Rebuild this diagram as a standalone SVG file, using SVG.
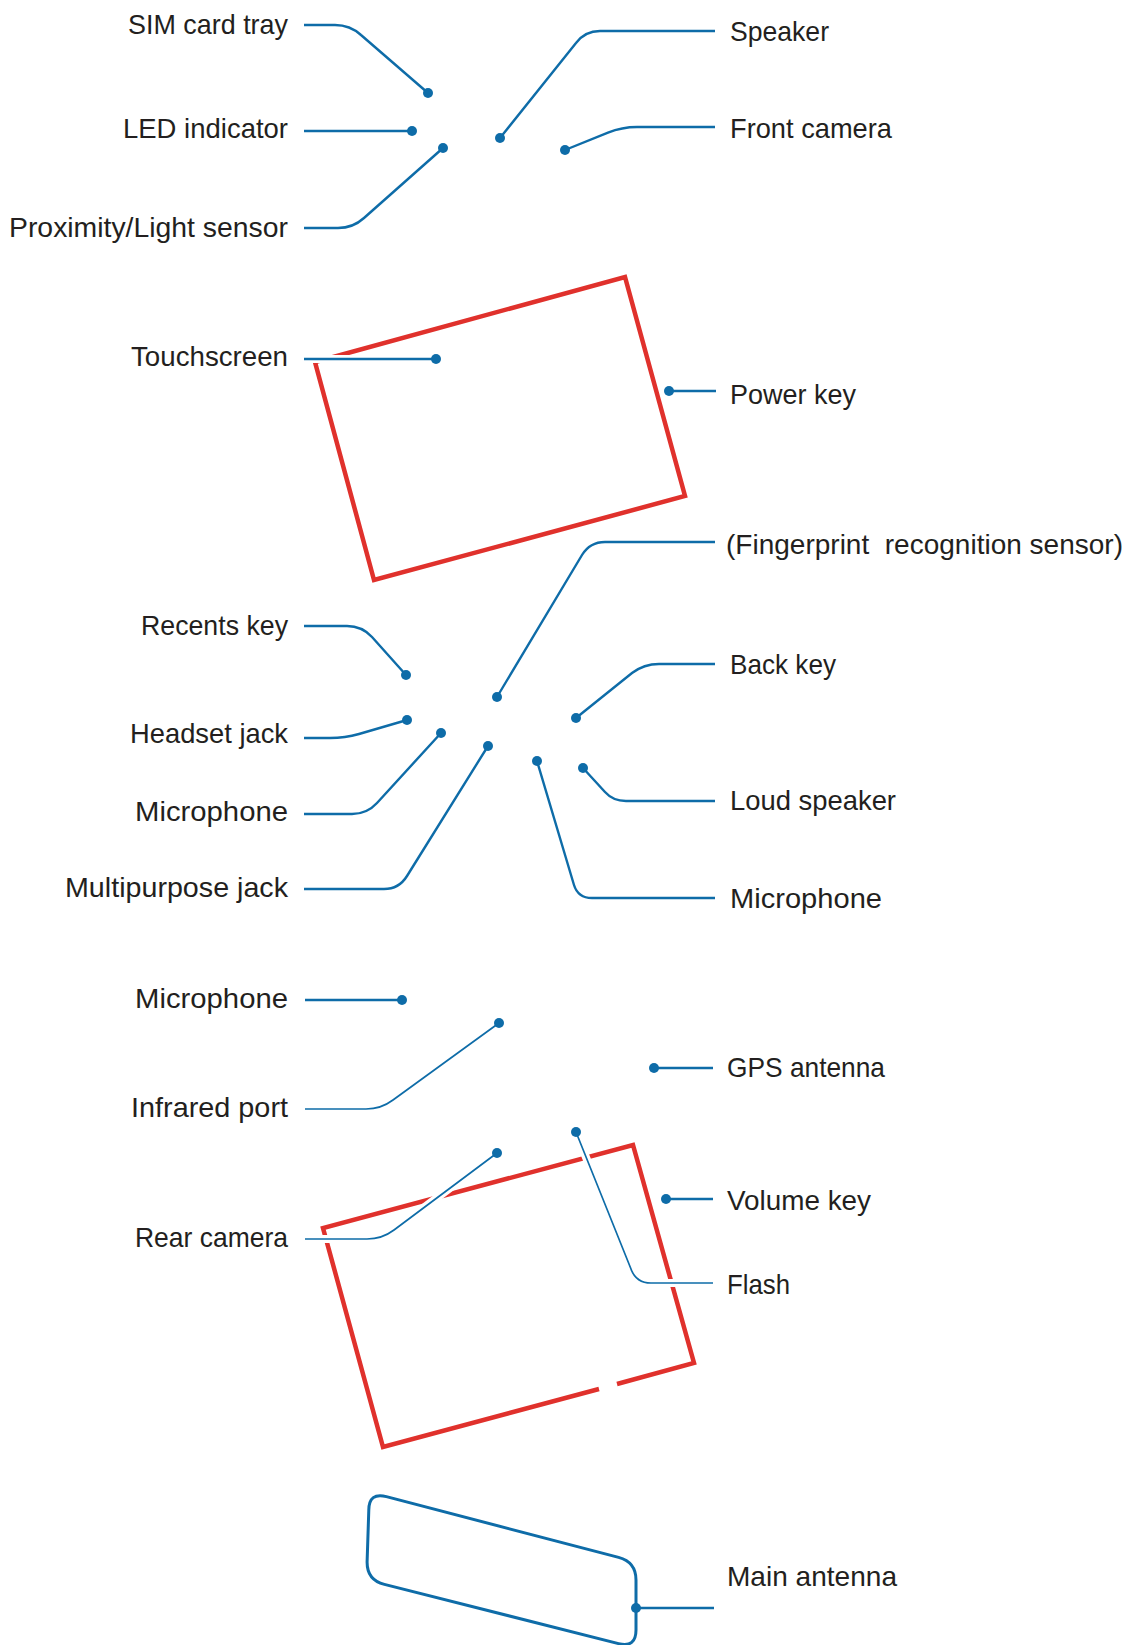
<svg xmlns="http://www.w3.org/2000/svg" width="1136" height="1645" viewBox="0 0 1136 1645">
<style>
  text { font-family: "Liberation Sans", Arial, sans-serif; font-size: 28px; fill: #231f20; }
  .l { text-anchor: end; }
  .r { text-anchor: start; }
  .frame { fill: none; stroke: #e0312c; stroke-width: 4.5; stroke-linejoin: miter; }
  .ln { fill: none; stroke: #0e6ca8; stroke-width: 2.4; }
  .thin { fill: none; stroke: #0e6ca8; stroke-width: 1.7; }
  .halo { fill: none; stroke: #ffffff; stroke-width: 8; }
  .dot { fill: #0e6ca8; }
  .ant { fill: none; stroke: #0e6ca8; stroke-width: 3; }
</style>
<rect width="1136" height="1645" fill="#ffffff"/>

<g id="outlines">
  <polygon id="front-frame" class="frame" points="315,362 625,277 685,496 374,580"/>
  <path id="rear-frame" class="frame" d="M617,1384 L694,1363 L633,1145 L323,1228 L383,1447 L599,1389"/>
  <path id="antenna-outline" class="ant" d="M386.4,1496.6 L618.6,1557.4 Q636,1562 636,1580 L636,1630 Q636,1648 618.6,1643.6 L384.4,1584.4 Q367,1580 367.1,1562 L368.8,1510 Q369,1492 386.4,1496.6 Z"/>
</g>

<g id="connectors">
  <path class="ln" d="M304,25 H335 Q350,25 361,35 L428,93"/>
  <path class="ln" d="M304,131 H412"/>
  <path class="ln" d="M304,228 H338 Q353,228 364,218 L443,148"/>
  <path class="ln" d="M500,138 L576,43 Q585,31 600,31 H715"/>
  <path class="ln" d="M565,150 L608,132.6 Q622,127 637,127 H715"/>
  <path class="halo" d="M312,359 H436"/>
  <path class="ln" d="M304,359 H436"/>
  <path class="ln" d="M669,391 H716"/>
  <path class="ln" d="M497,697 L582,555 Q590,542 605,542 H715"/>
  <path class="ln" d="M304,626 H347 Q362,626 372,637 L406,675"/>
  <path class="ln" d="M304,738 H330 Q345,738 359,734 L407,720"/>
  <path class="ln" d="M304,814 H352 Q367,814 377,803 L441,733"/>
  <path class="ln" d="M304,889 H384 Q399,889 407,876 L488,746"/>
  <path class="ln" d="M576,718 L632,673 Q644,664 659,664 H715"/>
  <path class="ln" d="M583,768 L605,792 Q613,801 626,801 H715"/>
  <path class="ln" d="M537,761 L574,885 Q578,898 592,898 H715"/>
  <path class="ln" d="M305,1000 H402"/>
  <path class="thin" d="M305,1109 H366 Q381,1109 393,1100 L499,1023"/>
  <path class="ln" d="M654,1068 H713"/>
  <path class="halo" d="M312,1239 H367 Q382,1239 394,1230 L490,1158"/>
  <path class="thin" d="M305,1239 H367 Q382,1239 394,1230 L497,1153"/>
  <path class="halo" d="M579,1140 L631,1269 Q636,1283 651,1283 H705"/>
  <path class="thin" d="M576,1132 L631,1269 Q636,1283 651,1283 H713"/>
  <path class="ln" d="M666,1199 H713"/>
  <path class="ln" d="M636,1608 H714"/>
  <circle class="dot" cx="428" cy="93" r="5"/>
  <circle class="dot" cx="412" cy="131" r="5"/>
  <circle class="dot" cx="443" cy="148" r="5"/>
  <circle class="dot" cx="500" cy="138" r="5"/>
  <circle class="dot" cx="565" cy="150" r="5"/>
  <circle class="dot" cx="436" cy="359" r="5"/>
  <circle class="dot" cx="669" cy="391" r="5"/>
  <circle class="dot" cx="497" cy="697" r="5"/>
  <circle class="dot" cx="406" cy="675" r="5"/>
  <circle class="dot" cx="407" cy="720" r="5"/>
  <circle class="dot" cx="441" cy="733" r="5"/>
  <circle class="dot" cx="488" cy="746" r="5"/>
  <circle class="dot" cx="576" cy="718" r="5"/>
  <circle class="dot" cx="583" cy="768" r="5"/>
  <circle class="dot" cx="537" cy="761" r="5"/>
  <circle class="dot" cx="402" cy="1000" r="5"/>
  <circle class="dot" cx="499" cy="1023" r="5"/>
  <circle class="dot" cx="654" cy="1068" r="5"/>
  <circle class="dot" cx="497" cy="1153" r="5"/>
  <circle class="dot" cx="576" cy="1132" r="5"/>
  <circle class="dot" cx="666" cy="1199" r="5"/>
  <circle class="dot" cx="636" cy="1608" r="5"/>
</g>

<g id="sim-card-tray"><text class="l" x="288" y="34" textLength="160" lengthAdjust="spacingAndGlyphs">SIM card tray</text></g>
<g id="led-indicator"><text class="l" x="288" y="138" textLength="165" lengthAdjust="spacingAndGlyphs">LED indicator</text></g>
<g id="proximity-light-sensor"><text class="l" x="288" y="237" textLength="279" lengthAdjust="spacingAndGlyphs">Proximity/Light sensor</text></g>
<g id="speaker"><text class="r" x="730" y="41" textLength="99" lengthAdjust="spacingAndGlyphs">Speaker</text></g>
<g id="front-camera"><text class="r" x="730" y="138" textLength="162" lengthAdjust="spacingAndGlyphs">Front camera</text></g>
<g id="touchscreen"><text class="l" x="288" y="366" textLength="157" lengthAdjust="spacingAndGlyphs">Touchscreen</text></g>
<g id="power-key"><text class="r" x="730" y="404" textLength="126" lengthAdjust="spacingAndGlyphs">Power key</text></g>
<g id="fingerprint-sensor"><text class="r" x="726" y="554" textLength="397" lengthAdjust="spacingAndGlyphs" xml:space="preserve">(Fingerprint  recognition sensor)</text></g>
<g id="recents-key"><text class="l" x="288" y="635" textLength="147" lengthAdjust="spacingAndGlyphs">Recents key</text></g>
<g id="back-key"><text class="r" x="730" y="674" textLength="106" lengthAdjust="spacingAndGlyphs">Back key</text></g>
<g id="headset-jack"><text class="l" x="288" y="743" textLength="158" lengthAdjust="spacingAndGlyphs">Headset jack</text></g>
<g id="loud-speaker"><text class="r" x="730" y="810" textLength="166" lengthAdjust="spacingAndGlyphs">Loud speaker</text></g>
<g id="microphone-bottom-1"><text class="l" x="288" y="821" textLength="153" lengthAdjust="spacingAndGlyphs">Microphone</text></g>
<g id="multipurpose-jack"><text class="l" x="288" y="897" textLength="223" lengthAdjust="spacingAndGlyphs">Multipurpose jack</text></g>
<g id="microphone-bottom-2"><text class="r" x="730" y="908" textLength="152" lengthAdjust="spacingAndGlyphs">Microphone</text></g>
<g id="microphone-top"><text class="l" x="288" y="1008" textLength="153" lengthAdjust="spacingAndGlyphs">Microphone</text></g>
<g id="gps-antenna"><text class="r" x="727" y="1077" textLength="158" lengthAdjust="spacingAndGlyphs">GPS antenna</text></g>
<g id="infrared-port"><text class="l" x="288" y="1117" textLength="157" lengthAdjust="spacingAndGlyphs">Infrared port</text></g>
<g id="volume-key"><text class="r" x="727" y="1210" textLength="144" lengthAdjust="spacingAndGlyphs">Volume key</text></g>
<g id="rear-camera"><text class="l" x="288" y="1247" textLength="153" lengthAdjust="spacingAndGlyphs">Rear camera</text></g>
<g id="flash"><text class="r" x="727" y="1294" textLength="63" lengthAdjust="spacingAndGlyphs">Flash</text></g>
<g id="main-antenna"><text class="r" x="727" y="1586" textLength="170" lengthAdjust="spacingAndGlyphs">Main antenna</text></g>
</svg>
